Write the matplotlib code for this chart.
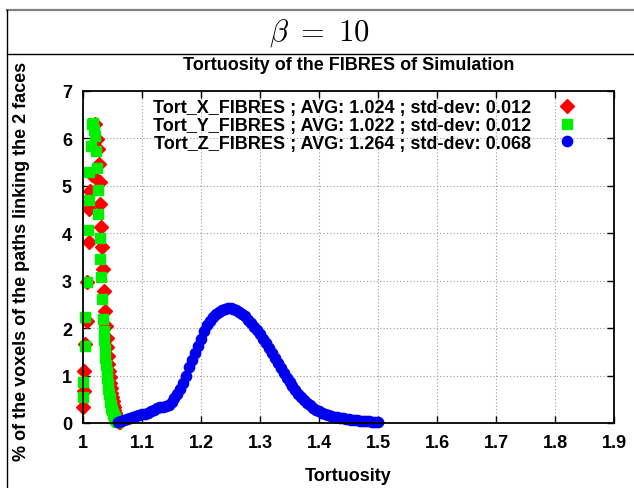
import matplotlib
matplotlib.use("Agg")
import matplotlib.pyplot as plt
from matplotlib.lines import Line2D

plt.rcParams['font.family'] = ['Liberation Sans', 'DejaVu Sans']
plt.rcParams['mathtext.fontset'] = 'cm'

# ---------------- data ----------------
x_tort_x = [1.000, 1.001, 1.002, 1.004, 1.0065, 1.007, 1.010, 1.011, 1.012, 1.015,
            1.018, 1.021, 1.024, 1.026, 1.027, 1.028, 1.029, 1.031, 1.032, 1.034,
            1.036, 1.038, 1.039, 1.040, 1.041, 1.042, 1.043, 1.044, 1.045, 1.046,
            1.047, 1.048, 1.049, 1.050, 1.051, 1.052, 1.053, 1.054, 1.055, 1.056,
            1.057, 1.058, 1.059, 1.060, 1.061, 1.062]
y_tort_x = [0.34, 0.68, 1.10, 1.67, 2.16, 2.97, 3.82, 4.51, 4.90, 5.22,
            5.85, 6.30, 5.99, 5.78, 5.46, 5.08, 4.62, 4.14, 3.71, 3.25,
            2.79, 2.36, 2.05, 1.80, 1.60, 1.42, 1.25, 1.10, 0.96, 0.84,
            0.73, 0.63, 0.54, 0.46, 0.39, 0.33, 0.27, 0.22, 0.18, 0.14,
            0.11, 0.08, 0.06, 0.04, 0.03, 0.02]

x_tort_y = [1.000, 1.0005, 1.003, 1.004, 1.006, 1.008, 1.010, 1.011, 1.013, 1.015,
            1.017, 1.018, 1.020, 1.022, 1.023, 1.025, 1.026, 1.028, 1.029, 1.031,
            1.032, 1.034, 1.035, 1.036, 1.037, 1.038, 1.039, 1.040, 1.041, 1.042,
            1.043, 1.044, 1.045, 1.046, 1.047, 1.048, 1.049, 1.050, 1.051, 1.052,
            1.053, 1.054, 1.055, 1.056, 1.057, 1.058, 1.059, 1.060]
y_tort_y = [0.55, 0.86, 1.63, 2.23, 2.97, 4.07, 4.71, 5.30, 5.85, 6.31,
            6.33, 6.17, 6.06, 5.74, 5.38, 4.92, 4.41, 3.90, 3.46, 3.08,
            2.62, 2.19, 1.95, 1.75, 1.55, 1.38, 1.22, 1.08, 0.95, 0.83,
            0.72, 0.62, 0.53, 0.45, 0.38, 0.32, 0.27, 0.22, 0.18, 0.15,
            0.12, 0.10, 0.08, 0.06, 0.05, 0.04, 0.03, 0.02]

x_tort_z = [1.060, 1.065, 1.070, 1.075, 1.080, 1.085, 1.090, 1.095, 1.100, 1.105,
            1.110, 1.115, 1.120, 1.125, 1.130, 1.135, 1.140, 1.145, 1.150, 1.155,
            1.160, 1.165, 1.170, 1.175, 1.180, 1.185, 1.190, 1.195, 1.200, 1.205,
            1.210, 1.215, 1.220, 1.225, 1.230, 1.235, 1.240, 1.245, 1.250, 1.255,
            1.260, 1.265, 1.270, 1.275, 1.280, 1.285, 1.290, 1.295, 1.300, 1.305,
            1.310, 1.315, 1.320, 1.325, 1.330, 1.335, 1.340, 1.345, 1.350, 1.355,
            1.360, 1.365, 1.370, 1.375, 1.380, 1.385, 1.390, 1.395, 1.400, 1.405,
            1.410, 1.415, 1.420, 1.425, 1.430, 1.435, 1.440, 1.445, 1.450, 1.455,
            1.460, 1.465, 1.470, 1.475, 1.480, 1.485, 1.490, 1.495, 1.500]
y_tort_z = [0.02, 0.04, 0.06, 0.08, 0.10, 0.12, 0.14, 0.16, 0.18, 0.20,
            0.22, 0.25, 0.28, 0.31, 0.33, 0.34, 0.35, 0.38, 0.45, 0.53,
            0.62, 0.72, 0.84, 1.00, 1.18, 1.33, 1.48, 1.63, 1.77, 1.93,
            2.06, 2.15, 2.23, 2.29, 2.34, 2.38, 2.41, 2.43, 2.42, 2.40,
            2.38, 2.35, 2.30, 2.25, 2.18, 2.10, 2.03, 1.96, 1.88, 1.78,
            1.68, 1.58, 1.47, 1.36, 1.26, 1.15, 1.05, 0.95, 0.86, 0.77,
            0.69, 0.61, 0.54, 0.48, 0.42, 0.37, 0.32, 0.28, 0.25, 0.22,
            0.19, 0.17, 0.15, 0.13, 0.12, 0.11, 0.10, 0.09, 0.08, 0.07,
            0.06, 0.055, 0.05, 0.045, 0.04, 0.035, 0.03, 0.025, 0.02]

labels = ["Tort_X_FIBRES ; AVG: 1.024 ; std-dev: 0.012",
          "Tort_Y_FIBRES ; AVG: 1.022 ; std-dev: 0.012",
          "Tort_Z_FIBRES ; AVG: 1.264 ; std-dev: 0.068"]
x_ticks = [1, 1.1, 1.2, 1.3, 1.4, 1.5, 1.6, 1.7, 1.8, 1.9]
x_ticklabels = ["1", "1.1", "1.2", "1.3", "1.4", "1.5", "1.6", "1.7", "1.8", "1.9"]
y_ticks = [0, 1, 2, 3, 4, 5, 6, 7]

FS = 13

# ---------------- figure ----------------
W, H = 634, 489
fig = plt.figure(figsize=(W / 100, H / 100), dpi=100)
ax = fig.add_axes([83 / W, 1 - 424 / H, (614 - 83) / W, (424 - 92) / H])

ax.plot(x_tort_x, y_tort_x, linestyle='none', marker='D', ms=6.8,
        color='#ff0000', mec='#ff0000', label=labels[0], clip_on=False)
ax.plot(x_tort_y, y_tort_y, linestyle='none', marker='s', ms=6.6,
        color='#00ee00', mec='#00ee00', label=labels[1], clip_on=False)
ax.plot(x_tort_z, y_tort_z, linestyle='none', marker='o', ms=7.4,
        color='#0000ee', mec='#0000ee', label=labels[2], clip_on=False)

ax.set_xlim(1, 1.9)
ax.set_ylim(0, 7)
ax.set_xticks(x_ticks)
ax.set_xticklabels(x_ticklabels)
ax.set_yticks(y_ticks)
ax.grid(True, linestyle=(0, (1, 2)), color='#999999', linewidth=0.8)
ax.set_axisbelow(True)
ax.tick_params(direction='in', length=5, width=1, top=True, right=True,
               labelsize=FS, pad=8)
for lab in ax.get_xticklabels() + ax.get_yticklabels():
    lab.set_fontweight('bold')
for sp in ax.spines.values():
    sp.set_linewidth(1.3)

ax.set_xlabel("Tortuosity", fontsize=FS, fontweight='bold')
ax.xaxis.set_label_coords(0.5, (424 - 468) / 332)
ax.set_ylabel("% of the voxels of the paths linking the 2 faces",
              fontsize=FS, fontweight='bold')
ax.yaxis.set_label_coords((30 - 83) / 531, 0.49)

ax.text(0.5, (424 - 65) / 332, "Tortuosity of the FIBRES of Simulation",
        transform=ax.transAxes, ha='center', va='center',
        fontsize=FS, fontweight='bold')

leg = ax.legend(loc='upper right', bbox_to_anchor=((578 - 83) / 531, 1 - 8 / 332),
                frameon=False, markerfirst=False, fontsize=FS,
                handlelength=1.2, handletextpad=1.4, labelspacing=0.05,
                borderaxespad=0, borderpad=0, markerscale=1.0)
for t in leg.get_texts():
    t.set_fontweight('bold')

# frame lines of the page
fig.add_artist(Line2D([7 / W, 1], [1 - 11 / H, 1 - 11 / H], color='#808080', lw=1.6))
fig.add_artist(Line2D([7 / W, 1], [1 - 55 / H, 1 - 55 / H], color='black', lw=1.0))
fig.add_artist(Line2D([7 / W, 7 / W], [0, 1 - 11 / H], color='black', lw=1.0))

fig.text(320 / W, 1 - 33 / H, r'$\beta\ =\ 10$', ha='center', va='center', fontsize=22)

fig.savefig("out.png", dpi=100)
